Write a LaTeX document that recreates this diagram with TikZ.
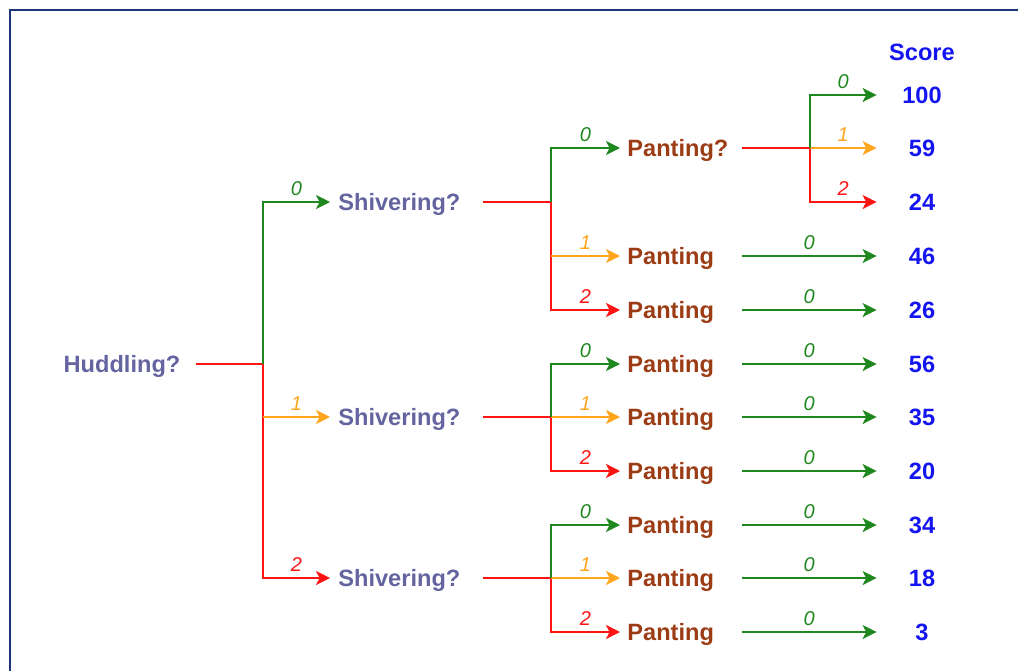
\documentclass[tikz,border=0pt]{standalone}
\usepackage{fontspec}
\setmainfont{Liberation Sans}
\usetikzlibrary{arrows.meta}
\definecolor{cFrame}{RGB}{30,55,120}
\definecolor{cQuest}{RGB}{100,100,160}
\definecolor{cPant}{RGB}{155,60,20}
\definecolor{cScore}{RGB}{20,20,240}
\definecolor{cGreen}{RGB}{30,135,30}
\definecolor{cOrange}{RGB}{255,165,30}
\definecolor{cRed}{RGB}{255,20,20}
\begin{document}
\begin{tikzpicture}[x=0.5pt,y=-0.5pt,
  txt/.style={font=\fontsize{11.8}{14}\selectfont\bfseries, inner sep=0pt,
              text height=8.5pt, text depth=0pt},
  question/.style={txt, text=cQuest},
  shiv/.style={question, anchor=west, inner xsep=4pt},
  pant/.style={txt, text=cPant, anchor=west, inner xsep=3.5pt},
  score/.style={txt, text=cScore, minimum width=45pt, align=center},
  stem/.style={line width=1.1pt, cRed},
  link/.style={line width=1.1pt, -{Stealth[length=7pt,width=7pt,inset=1.8pt]}},
  lbl/.style={font=\fontsize{10}{10}\selectfont\itshape, inner sep=0pt,
              text height=7.2pt, text depth=0pt, above=2.6pt},
  frame/.style={draw=cFrame, line width=1pt}]
\useasboundingbox (0,0) rectangle (1018,670);
\clip (0,0) rectangle (1018,670);
\draw[frame] (10,10) rectangle (1060,720);

% decision nodes
\node[question] (hud) at (122,364) {Huddling?};
\node[shiv] (sh0) at (330,202) {Shivering?};
\node[shiv] (sh1) at (330,417) {Shivering?};
\node[shiv] (sh2) at (330,578) {Shivering?};
\node[pant] (p00) at (620,148) {Panting?};
\node[pant] (p01) at (620,256) {Panting};
\node[pant] (p02) at (620,310) {Panting};
\node[pant] (p10) at (620,364) {Panting};
\node[pant] (p11) at (620,417) {Panting};
\node[pant] (p12) at (620,471) {Panting};
\node[pant] (p20) at (620,525) {Panting};
\node[pant] (p21) at (620,578) {Panting};
\node[pant] (p22) at (620,632) {Panting};

% scores
\node[score] (shead) at (922,52) {Score};
\node[score] (r000) at (922,95) {100};
\node[score] (r001) at (922,148) {59};
\node[score] (r002) at (922,202) {24};
\node[score] (r01) at (922,256) {46};
\node[score] (r02) at (922,310) {26};
\node[score] (r10) at (922,364) {56};
\node[score] (r11) at (922,417) {35};
\node[score] (r12) at (922,471) {20};
\node[score] (r20) at (922,525) {34};
\node[score] (r21) at (922,578) {18};
\node[score] (r22) at (922,632) {3};

% stem starts and junctions
\coordinate (hudOut) at (196,364); \coordinate (hudJ) at (263,364);
\coordinate (sh0Out) at (483,202); \coordinate (sh0J) at (551,202);
\coordinate (sh1Out) at (483,417); \coordinate (sh1J) at (551,417);
\coordinate (sh2Out) at (483,578); \coordinate (sh2J) at (551,578);
\coordinate (p00Out) at (742,148); \coordinate (p00J) at (810,148);
\foreach \p/\y in {p01/256,p02/310,p10/364,p11/417,p12/471,p20/525,p21/578,p22/632}
  \coordinate (\p Out) at (742,\y);

% Huddling?
\draw[stem] (hudOut) -- (hudJ);
\draw[link, cRed] (hudJ) |- (sh2.west) node[lbl, pos=0.75] {2};
\draw[link, cOrange] (hudJ |- sh1.west) -- (sh1.west) node[lbl, midway] {1};
\draw[link, cGreen] (hudJ) |- (sh0.west) node[lbl, pos=0.75] {0};

% Shivering? (three groups)
\foreach \s/\a/\b/\c in {sh0/p00/p01/p02, sh1/p10/p11/p12, sh2/p20/p21/p22}{
  \draw[stem] (\s Out) -- (\s J);
  \draw[link, cRed] (\s J) |- (\c.west) node[lbl, pos=0.75] {2};
  \draw[link, cOrange] (\s J |- \b.west) -- (\b.west) node[lbl, midway] {1};
  \draw[link, cGreen] (\s J) |- (\a.west) node[lbl, pos=0.75] {0};
}

% Panting?
\draw[stem] (p00Out) -- (p00J);
\draw[link, cRed] (p00J) |- (r002.west) node[lbl, pos=0.75] {2};
\draw[link, cOrange] (p00J) -- (r001.west) node[lbl, midway] {1};
\draw[link, cGreen] (p00J) |- (r000.west) node[lbl, pos=0.75] {0};

% Panting leaves
\foreach \p/\r in {p01/r01,p02/r02,p10/r10,p11/r11,p12/r12,p20/r20,p21/r21,p22/r22}
  \draw[link, cGreen] (\p Out) -- (\r.west) node[lbl, midway] {0};
\end{tikzpicture}
\end{document}
